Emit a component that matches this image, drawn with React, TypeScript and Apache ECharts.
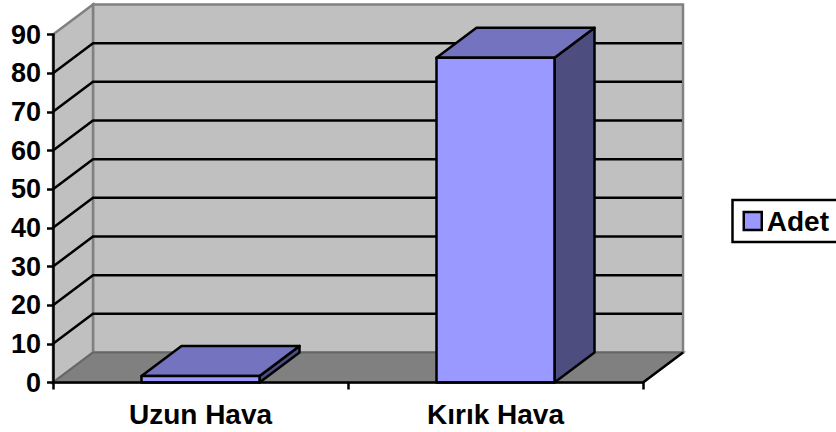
import React, { useEffect, useRef } from "react";
import * as echarts from "echarts";

const categories = ["Uzun Hava", "Kırık Hava"];
const adet = [1.7, 84];
const gridValues = [10, 20, 30, 40, 50, 60, 70, 80];
const seriesName = "Adet";

const DX = 40;
const DY = -30;
const BAR_RATIO = 0.4;
const FONT = "'Liberation Sans', Arial, sans-serif";

export default function App() {
  const ref = useRef<HTMLDivElement>(null);
  useEffect(() => {
    const chart = echarts.init(ref.current!, null, { renderer: "svg" });
    chart.setOption({
      animation: false,
      backgroundColor: "#ffffff",
      grid: { left: 53, right: 193, top: 34.5, bottom: 49.5 },
      legend: {
        show: true,
        data: [{ name: seriesName, icon: "rect", itemStyle: { color: "#9999FF", borderColor: "#000", borderWidth: 2.5 } }],
        left: 732.5,
        top: 200,
        orient: "horizontal",
        borderColor: "#000",
        borderWidth: 2.5,
        padding: [7, 14, 7, 10],
        itemWidth: 18,
        itemHeight: 18,
        itemGap: 4,
        textStyle: { fontFamily: FONT, fontWeight: "bold", fontSize: 28, color: "#000", padding: [0, 0, 0, 0] },
      },
      xAxis: {
        type: "category",
        data: categories,
        z: 5,
        axisLine: { lineStyle: { color: "#000", width: 2.5 } },
        axisTick: { show: true, length: 7, alignWithLabel: false, lineStyle: { color: "#000", width: 2.5 } },
        axisLabel: { fontFamily: FONT, fontWeight: "bold", fontSize: 28, color: "#000", margin: 18 },
      },
      yAxis: {
        type: "value",
        min: 0,
        max: 90,
        interval: 10,
        z: 5,
        splitLine: { show: false },
        axisLine: { show: true, lineStyle: { color: "#000", width: 2.5 } },
        axisTick: { show: true, length: 6, lineStyle: { color: "#000", width: 2.5 } },
        axisLabel: { fontFamily: FONT, fontWeight: "bold", fontSize: 27, color: "#000", margin: 12 },
      },
      series: [
        {
          type: "custom",
          name: "walls",
          z: 1,
          silent: true,
          data: [[0, 0]],
          renderItem: (params: any) => {
            const c = params.coordSys;
            const l = c.x, r = c.x + c.width, t = c.y, b = c.y + c.height;
            const wall = { fill: "#C0C0C0", stroke: "#808080", lineWidth: 2.5 };
            return {
              type: "group",
              children: [
                { type: "polygon", shape: { points: [[l + DX, t + DY], [r + DX, t + DY], [r + DX, b + DY], [l + DX, b + DY]] }, style: wall },
                { type: "polygon", shape: { points: [[l, t], [l + DX, t + DY], [l + DX, b + DY], [l, b]] }, style: wall },
                { type: "polygon", shape: { points: [[l, b], [l + DX, b + DY], [r + DX, b + DY], [r, b]] }, style: { fill: "#808080", stroke: "#666666", lineWidth: 2 } },
                { type: "line", shape: { x1: r, y1: b, x2: r + DX, y2: b + DY }, style: { stroke: "#000", lineWidth: 2.5 } },
              ],
            };
          },
        },
        {
          type: "custom",
          name: "gridlines",
          z: 2,
          silent: true,
          data: gridValues.map((v) => [0, v]),
          renderItem: (params: any, api: any) => {
            const c = params.coordSys;
            const y = api.coord([0, api.value(1)])[1];
            return {
              type: "polyline",
              shape: { points: [[c.x, y], [c.x + DX, y + DY], [c.x + c.width + DX - 1, y + DY]] },
              style: { fill: "none", stroke: "#000", lineWidth: 2.5 },
            };
          },
        },
        {
          type: "custom",
          name: seriesName,
          z: 3,
          itemStyle: { color: "#9999FF" },
          data: adet.map((v, i) => [i, v]),
          renderItem: (_params: any, api: any) => {
            const top = api.coord([api.value(0), api.value(1)]);
            const base = api.coord([api.value(0), 0]);
            const w = api.size([1, 0])[0] * BAR_RATIO;
            const l = top[0] - w / 2, r = top[0] + w / 2;
            const line = { stroke: "#000", lineWidth: 2.5, lineJoin: "round" };
            return {
              type: "group",
              children: [
                { type: "polygon", shape: { points: [[r, top[1]], [r + DX, top[1] + DY], [r + DX, base[1] + DY], [r, base[1]]] }, style: { fill: "#4D4D80", ...line } },
                { type: "polygon", shape: { points: [[l, top[1]], [l + DX, top[1] + DY], [r + DX, top[1] + DY], [r, top[1]]] }, style: { fill: "#7373BF", ...line } },
                { type: "polygon", shape: { points: [[l, top[1]], [r, top[1]], [r, base[1]], [l, base[1]]] }, style: { fill: "#9999FF", ...line } },
              ],
            };
          },
        },
      ],
    });
    return () => chart.dispose();
  }, []);
  return <div ref={ref} style={{ position: "fixed", left: 0, top: 0, width: 836, height: 432 }} />;
}
